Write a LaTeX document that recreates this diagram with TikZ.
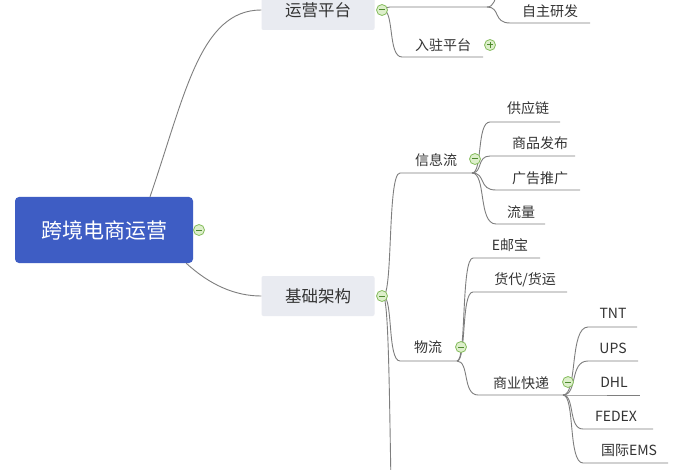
\documentclass[tikz,border=0pt]{standalone}
\usepackage{fontspec}
\setmainfont{Noto Sans CJK SC}
\usetikzlibrary{calc}
\definecolor{rootblue}{HTML}{3E5DC4}
\definecolor{topicbg}{HTML}{E9EBF1}
\definecolor{linec}{HTML}{7E7E7E}
\definecolor{txt}{HTML}{333333}
\definecolor{tgfill}{HTML}{DDEFCB}
\definecolor{tgdraw}{HTML}{86BD5E}
\definecolor{tgmark}{HTML}{4E8A2E}
\newcommand\xmconn[3]{\draw[branch] let \p1=(#1), \p2=(#2) in (\p1) .. controls ({\x1+0.6*(\x2-\x1)},\y1) and ({\x1+0.25*(\x2-\x1)},\y2) .. (\p2) -- (#3);}
\begin{document}
\begin{tikzpicture}[x=1pt,y=-1pt,
  rootbox/.style={fill=rootblue, rounded corners=4pt, minimum width=178pt, minimum height=66pt, text=white, font=\fontsize{21}{25}\selectfont, inner sep=0pt},
  topic/.style={fill=topicbg, rounded corners=2pt, minimum width=113pt, minimum height=40pt, text=txt, font=\fontsize{16.5}{19}\selectfont, inner sep=0pt},
  leaf/.style={text=txt, font=\fontsize{14}{17}\selectfont, inner sep=0pt},
  branch/.style={draw=linec, line width=0.9pt},
  toggle/.style={circle, draw=tgdraw, fill=tgfill, minimum size=11pt, inner sep=0pt, line width=0.8pt},
  tgminus/.style={toggle, path picture={\draw[tgmark, line width=1pt] ([xshift=-3pt]path picture bounding box.center) -- ([xshift=3pt]path picture bounding box.center);}},
  tgplus/.style={toggle, path picture={\draw[tgmark, line width=1pt] ([xshift=-3pt]path picture bounding box.center) -- ([xshift=3pt]path picture bounding box.center) ([yshift=-3pt]path picture bounding box.center) -- ([yshift=3pt]path picture bounding box.center);}}
]
\useasboundingbox (0,0) rectangle (700,470);
\clip (0,0) rectangle (700,470);
\fill[white] (0,0) rectangle (700,470);

% main nodes
\node[rootbox] (root) at (104,230) {跨境电商运营};
\node[topic] (yy) at (318,10) {运营平台};
\node[topic] (jc) at (318,296) {基础架构};

% junctions and underline ends
\coordinate (yyj) at (383,10);
\coordinate (xs) at (390,7);   \coordinate (xe) at (487,7);
\coordinate (ys) at (510,-25); \coordinate (ye) at (590,-25);
\coordinate (zzs) at (510,23); \coordinate (zze) at (590,23);
\coordinate (rzs) at (402,57); \coordinate (rze) at (483,57);
\coordinate (jcj) at (383,296);
\coordinate (xxs) at (400,173); \coordinate (xxe) at (472,173);
\coordinate (gys) at (490,122); \coordinate (gye) at (560,122);
\coordinate (sps) at (490,156); \coordinate (spe) at (575,156);
\coordinate (ggs) at (496,190); \coordinate (gge) at (580,190);
\coordinate (lls) at (496,224); \coordinate (lle) at (545,224);
\coordinate (wls) at (400,361); \coordinate (wle) at (457,361);
\coordinate (eys) at (473,258); \coordinate (eye) at (540,258);
\coordinate (hds) at (473,292); \coordinate (hde) at (567,292);
\coordinate (sys) at (478,395); \coordinate (sye) at (563,395);
\coordinate (tns) at (588,327); \coordinate (tne) at (637,327);
\coordinate (ups) at (588,361); \coordinate (upe) at (638,361);
\coordinate (dhs) at (575,395); \coordinate (dhe) at (640,395);
\coordinate (fds) at (583,429); \coordinate (fde) at (653,429);
\coordinate (ems) at (583,463); \coordinate (eme) at (668,463);
\coordinate (bts) at (400,620); \coordinate (bte) at (480,620);

% root connectors
\draw[branch] ([xshift=46pt]root.north) .. controls (185,95) and (200,10) .. (yy.west);
\draw[branch] ([xshift=-7pt]root.south east) .. controls (210,285) and (235,296) .. (jc.west);

% branches
\xmconn{yyj}{xs}{xe}
\xmconn{xe}{ys}{ye}
\xmconn{xe}{zzs}{zze}
\xmconn{yyj}{rzs}{rze}
\xmconn{jcj}{xxs}{xxe}
\xmconn{jcj}{wls}{wle}
\xmconn{jcj}{bts}{bte}
\xmconn{xxe}{gys}{gye}
\xmconn{xxe}{sps}{spe}
\xmconn{xxe}{ggs}{gge}
\xmconn{xxe}{lls}{lle}
\xmconn{wle}{eys}{eye}
\xmconn{wle}{hds}{hde}
\xmconn{wle}{sys}{sye}
\xmconn{sye}{tns}{tne}
\xmconn{sye}{ups}{upe}
\xmconn{sye}{dhs}{dhe}
\xmconn{sye}{fds}{fde}
\xmconn{sye}{ems}{eme}

% leaf texts
\node[leaf] (zz) at (550,11) {自主研发};
\node[leaf] (rz) at (443,45) {入驻平台};
\node[leaf] (xx) at (436,160) {信息流};
\node[leaf] (gy) at (528,108) {供应链};
\node[leaf] (sp) at (540,143) {商品发布};
\node[leaf] (gg) at (540,178) {广告推广};
\node[leaf] (ll) at (521,212) {流量};
\node[leaf] (wl) at (428,347) {物流};
\node[leaf] (ey) at (510,245) {E邮宝};
\node[leaf] (hd) at (525,280) {货代/货运};
\node[leaf] (sy) at (521,383) {商业快递};
\node[leaf] (tn) at (613,313) {TNT};
\node[leaf] (up) at (613,348) {UPS};
\node[leaf] (dh) at (614,382) {DHL};
\node[leaf] (fd) at (616,416) {FEDEX};
\node[leaf] (em) at (629,450) {国际EMS};

% toggles
\node[tgminus] (tgroot) at (199,230) {};
\node[tgminus] (tgyy) at (382,10) {};
\node[tgplus] (tgrz) at (490,45) {};
\node[tgminus] (tgjc) at (382,296) {};
\node[tgminus] (tgxx) at (475,159) {};
\node[tgminus] (tgwl) at (461,347) {};
\node[tgminus] (tgsy) at (568,382) {};
\end{tikzpicture}
\end{document}
